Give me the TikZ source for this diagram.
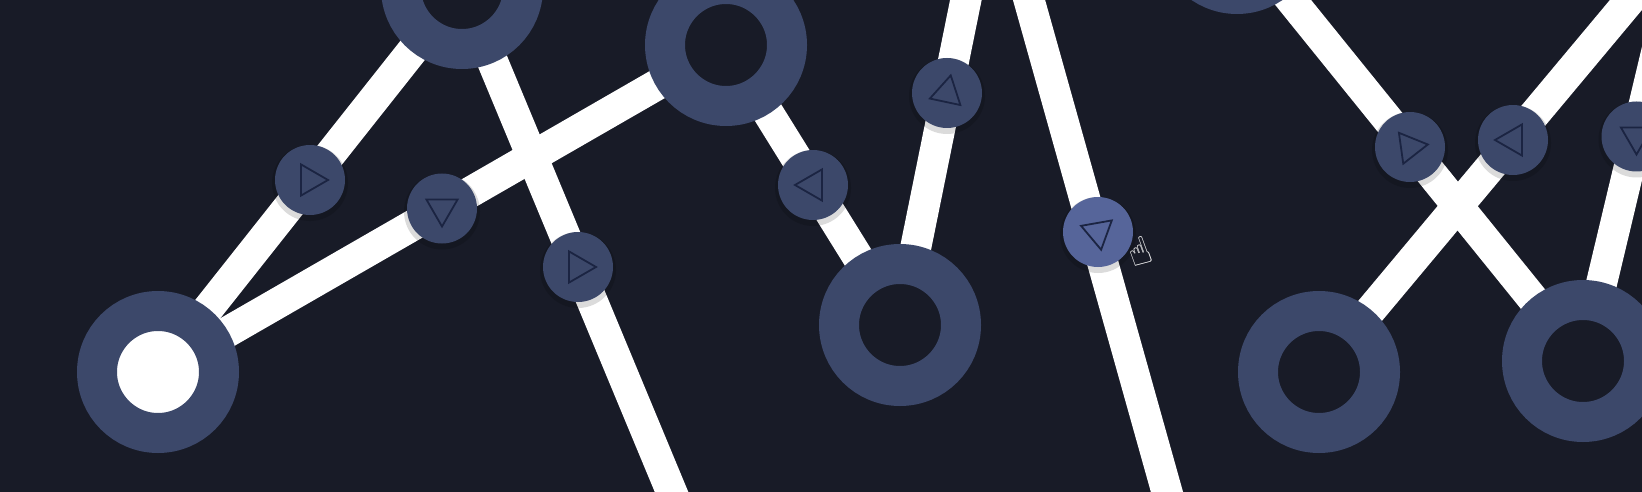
\documentclass[tikz,border=0pt]{standalone}
\usepackage{fontspec}
\newfontfamily\dejavu{DejaVu Sans}
\usetikzlibrary{shapes.geometric,backgrounds,calc}
\definecolor{bg}{HTML}{181B27}
\definecolor{ring}{HTML}{3C486A}
\definecolor{ringhover}{HTML}{56659A}
\definecolor{arrowline}{HTML}{1B2442}
\def\h{38}
\tikzset{
	station/.style={
		circle,
		draw=ring,
		line width=40pt,
		fill=bg,
		minimum size=122pt,
		inner sep=0pt,
	},
	start/.style={station, fill=white},
	gate/.style={
		circle,
		fill=ring,
		minimum size=70pt,
		inner sep=0pt,
	},
	hover/.style={gate, fill=ringhover},
	arrow/.style={
		regular polygon,
		regular polygon sides=3,
		draw=arrowline,
		line width=1.8pt,
		minimum size=36pt,
		inner sep=0pt,
		%fill=ring,
	},
	track/.style={draw=white, line width=31pt},
	shadow/.style={fill=black, opacity=.14},
}

\begin{document}
\begin{tikzpicture}[x=1pt, y=-1pt]
    \useasboundingbox (0,0) rectangle (1642,492);

    % stations
    \node[start] (A) at (158,372) {};
    \node[station] (B) at (462,-12) {};
    \node[station] (C) at (726,45) {};
    \node[station] (D) at (900,325) {};
    \node[station] (E) at (1319,372) {};
    \node[station] (F) at (1583,361) {};
    \node[station] (G) at (1237,-67) {};

    % tracks leaving the screen
    \coordinate (b3) at (694,546);
    \coordinate (d5) at (994,-139);
    \coordinate (u6) at (1001,-100);
    \coordinate (v6) at (1195,592);
    \coordinate (h8) at (1707,-92);
    \coordinate (h9) at (1690,-88);

    % gates
    \node[gate] (g1) at ($(A)!0.5!(B)$) {};
    \node[gate] (g2) at ($(A)!0.5!(C)$) {};
    \node[gate] (g3) at ($(B)!0.5!(b3)$) {};
    \node[gate] (g4) at ($(C)!0.5!(D)$) {};
    \node[gate] (g5) at ($(D)!0.5!(d5)$) {};
    \node[hover] (g6) at (1098,232) {};
    \node[gate] (g7) at ($(G)!0.5!(F)$) {};
    \node[gate] (g8) at ($(E)!0.5!(h8)$) {};
    \node[gate] (g9) at ($(F)!0.5!(h9)$) {};

    \node[arrow, rotate=-90] (t1) at (g1) {};
    \node[arrow, rotate=180] (t2) at (g2) {};
    \node[arrow, rotate=-90] (t3) at (g3) {};
    \node[arrow, rotate=90] (t4) at (g4) {};
    \node[arrow, rotate=-12] (t5) at (g5) {};
    \node[arrow, rotate=190] (t6) at (g6) {};
    \node[arrow, rotate=-82] (t7) at (g7) {};
    \node[arrow, rotate=90] (t8) at (g8) {};
    \node[arrow, rotate=180] (t9) at (g9) {};

    \node[font=\dejavu\fontsize{38}{38}\selectfont, text=white, rotate=20] (cursor) at (1140,252) {☝};

    \begin{scope}[on background layer]
        \fill[bg] (0,0) rectangle (1642,492);
        \draw[track] (A.center) -- (B.center);
        \draw[track] (A.center) -- (C.center);
        \draw[track] (B.center) -- (b3);
        \draw[track] (C.center) -- (D.center);
        \draw[track] (D.center) -- (d5);
        \draw[track] (u6) -- (v6);
        \draw[track] (G.center) -- (F.center);
        \draw[track] (E.center) -- (h8);
        \draw[track] (F.center) -- (h9);
        % soft shadow under the gates
        \fill[shadow] ($(g1)+(0,3)$) circle (\h);
        \fill[shadow] ($(g2)+(0,3)$) circle (\h);
        \fill[shadow] ($(g3)+(0,3)$) circle (\h);
        \fill[shadow] ($(g4)+(0,3)$) circle (\h);
        \fill[shadow] ($(g5)+(0,3)$) circle (\h);
        \fill[shadow] ($(g6)+(0,3)$) circle (\h);
        \fill[shadow] ($(g7)+(0,3)$) circle (\h);
        \fill[shadow] ($(g8)+(0,3)$) circle (\h);
        \fill[shadow] ($(g9)+(0,3)$) circle (\h);
    \end{scope}
\end{tikzpicture}
\end{document}
